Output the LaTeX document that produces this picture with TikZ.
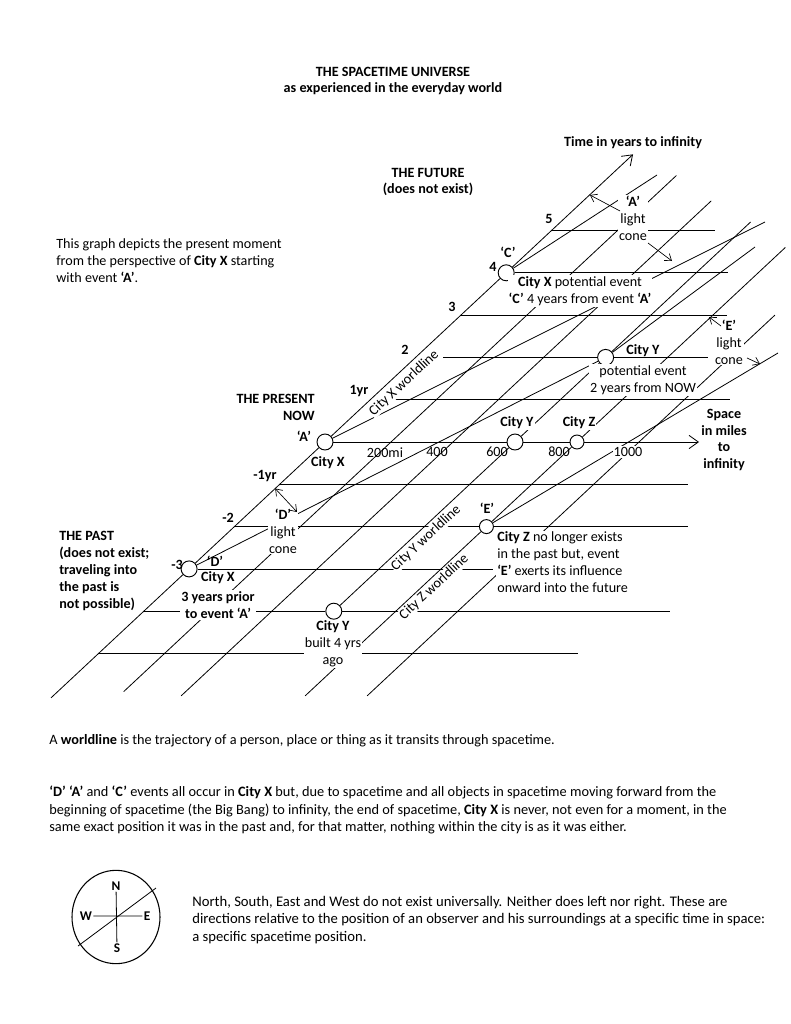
\documentclass[tikz,border=0pt]{standalone}
\usepackage{fontspec}
\setmainfont{Carlito}
\usetikzlibrary{arrows.meta,backgrounds,shapes.geometric}
\newcommand\SP[2]{({#1+45.3*(#2)},{442-42.3*(#2)})}
\newcommand\fs{\fontsize{10.6}{12.7}\selectfont}
\newcommand\fsb{\fontsize{10}{12.7}\selectfont}
\begin{document}
\begin{tikzpicture}[x=0.75pt,y=-0.75pt,
  gl/.style={line width=0.6pt},
  ev/.style={circle,draw,fill=white,line width=0.7pt,minimum size=12pt,inner sep=0pt},
  evs/.style={ev,minimum size=10.5pt},
  lb/.style={font=\fs,inner sep=0.8pt,fill=white,align=center},
  lbn/.style={font=\fs,inner sep=0.8pt,align=center},
  bl/.style={lb,font=\fs\bfseries},
  bln/.style={lbn,font=\fs\bfseries},
  rl/.style={font=\fs,inner sep=0.4pt,fill=white,rotate=43},
  arr/.style={line width=0.5pt,-{Straight Barb[length=4.5pt,width=6.5pt]}},
  dar/.style={line width=0.5pt,{Straight Barb[length=4.5pt,width=6.5pt]}-{Straight Barb[length=4.5pt,width=6.5pt]}},
  bigarr/.style={gl,-{Straight Barb[length=7pt,width=10pt]}},
]
\useasboundingbox (0,0) rectangle (791,1024);

% ---------- events ----------
\node[ev] (A) at (325,442) {};
\path \SP{325}{4} node[ev] (C) {};
\path \SP{325}{-3} node[ev] (D) {};
\node[ev] (Y0) at (515,442) {};
\node[evs] (Z0) at (577,442) {};
\path \SP{515}{2} node[ev] (Y2) {};
\path \SP{515}{-4} node[ev] (Yb) {};
\path \SP{577}{-2} node[evs] (E) {};
\path \SP{325}{6.8} coordinate (Tend);
\path \SP{325}{-6.05} coordinate (Tbeg);
\coordinate (Send) at (699,442);

% ---------- grid (background) ----------
\begin{scope}[on background layer]
\fill[white] (0,0) rectangle (791,1024);
% time levels
\draw[gl] \SP{325}{5} -- (715,{442-42.3*5});
\draw[gl] (C) -- (728,{442-42.3*4});
\draw[gl] \SP{325}{3} -- (727,{442-42.3*3});
\draw[gl] (443,{442-42.3*2}) -- (Y2) -- (708,{442-42.3*2});
\draw[gl] (395,{442-42.3*1}) -- (730,{442-42.3*1});
\draw[gl] (A) -- (Y0) (Y0) -- (Z0);
\draw[bigarr] (Z0) -- (Send);
\draw[gl] \SP{325}{-1} -- (688,{442+42.3*1});
\draw[gl] \SP{325}{-2} -- (E) -- (688,{442+42.3*2});
\draw[gl] (D) -- (493,{442+42.3*3});
\draw[gl] \SP{325}{-4} -- (Yb) -- (670,{442+42.3*4});
\draw[gl] \SP{325}{-5} -- (578,{442+42.3*5});
% space-position worldlines
\draw[bigarr] (Tbeg) -- (Tend);
\draw[gl] \SP{391}{-5.9} -- \SP{391}{6.3};
\draw[gl] \SP{453}{-6} -- \SP{453}{5.7};
\draw[gl] (Yb) -- (Y0) -- (Y2) -- \SP{515}{5.2};
\draw[gl] \SP{577}{-6} -- (E) -- (Z0) -- \SP{577}{4.6};
\draw[gl] \SP{639}{-6} -- \SP{639}{3.0};
% light cones
\draw[gl] (A) -- (765,222);
\draw[gl] (C) -- (657,175);
\draw[gl] (D) -- (Y2);
\draw[gl] (Y2) -- (755,247);
\draw[gl] (E) -- (778,353);
\end{scope}

% ---------- title ----------
\node[bln] at (393,81) {THE SPACETIME UNIVERSE\\as experienced in the everyday world};
\node[bln] at (633,143) {Time in years to infinity};
\node[bln] at (428,182) {THE FUTURE\\(does not exist)};
\node[lbn,anchor=west,align=left] at (55,261) {This graph depicts the present moment\\from the perspective of \textbf{City X} starting\\with event \textbf{‘A’}.};

% ---------- time ticks ----------
\node[bln] at (549,219) {5};
\node[bln] at (493,267) {4};
\node[bln] at (452,307) {3};
\node[bln] at (405,350) {2};
\node[bln] at (359,391) {1yr};
\node[bln] at (265,476) {-1yr};
\node[bln] at (228,518) {-2};
\node[bln] at (177,565) {-3};

% ---------- labels around events ----------
\node[bln] at (508,252) {‘C’};
\node[lb] at (580,291) {\textbf{City X} potential event\\\textbf{‘C’} 4 years from event \textbf{‘A’}};
\node[bln,align=right,anchor=east] at (316,407) {THE PRESENT\\NOW};
\node[bln] at (304,436) {‘A’};
\node[bl] at (328,463) {City X};
\node[rl] at (404,383) {City X worldline};

\node[lb] (Alc) at (633,218) {\textbf{‘A’}\\light\\cone};
\draw[arr] (620,211) -- (590,195);
\draw[arr] (648,243) -- (672,261);

\node[lbn] at (385,453) {200mi};
\node[lbn] at (437,452) {400};
\node[lbn] at (497,452) {600};
\node[lbn] at (559,452) {800};
\node[lb] at (628,452) {1000};
\node[bl] at (517,423) {City Y};
\node[bl] at (579,423) {City Z};
\node[bln] at (724,440) {Space\\in miles\\to\\infinity};

\node[bln] at (643,351) {City Y};
\node[lb] at (643,380) {potential event\\2 years from NOW};
\node[lb] at (729,342) {\textbf{‘E’}\\light\\cone};
\draw[arr] (721,326) -- (709,317);
\draw[arr] (747,358) -- (760,364);

\node[bln] at (215,561) {‘D’};
\node[bl] at (218,578) {City X};
\node[bl] at (218,605) {3 years prior\\to event ‘A’};
\node[lb] at (283,531) {\textbf{‘D’}\\light\\cone};
\draw[dar] \SP{325}{-1.1} -- (297,512);

\node[bln,anchor=west,align=left] at (58,571) {THE PAST\\(does not exist;\\traveling into\\the past is\\not possible)};

\node[rl] at (426,538) {City Y worldline};
\node[rl] at (434,587) {City Z worldline};
\node[bln] at (487,508) {‘E’};
\node[lb,anchor=west,align=left] at (496,562) {\textbf{City Z} no longer exists\\in the past but, event\\ \textbf{‘E’} exerts its influence\\onward into the future};
\node[lb] at (333,644) {\textbf{City Y}\\built 4 yrs\\ago};

% ---------- bottom text ----------
\node[lbn,anchor=west,align=left,font=\fontsize{10.7}{12.7}\selectfont] at (48,741) {A \textbf{worldline} is the trajectory of a person, place or thing as it transits through spacetime.};
\node[lbn,anchor=west,align=left,font=\fontsize{10.75}{12.9}\selectfont] at (48,810) {\textbf{‘D’} \textbf{‘A’} and \textbf{‘C’} events all occur in \textbf{City X} but, due to spacetime and all objects in spacetime moving forward from the\\beginning of spacetime (the Big Bang) to infinity, the end of spacetime, \textbf{City X} is never, not even for a moment, in the\\same exact position it was in the past and, for that matter, nothing within the city is as it was either.};

% ---------- compass ----------
\node[draw,ellipse,line width=0.8pt,minimum width=66pt,minimum height=70pt,inner sep=0pt] (cmp) at (116,917) {};
\node[bln,font=\fsb\bfseries] (N) at (116,886) {N};
\node[bln,font=\fsb\bfseries] (S) at (117,948) {S};
\node[bln,font=\fsb\bfseries] (W) at (86,916) {W};
\node[bln,font=\fsb\bfseries] (Ea) at (147,916) {E};
\draw[line width=0.6pt] (N) -- (S) (W) -- (Ea);
\draw[line width=0.6pt] (78,946) -- (156,888);
\node[lbn,anchor=west,align=left,font=\fontsize{11}{12.9}\selectfont] at (191,920) {North, South, East and West do not exist universally. Neither does left nor right. These are\\directions relative to the position of an observer and his surroundings at a specific time in space:\\a specific spacetime position.};
\end{tikzpicture}
\end{document}
